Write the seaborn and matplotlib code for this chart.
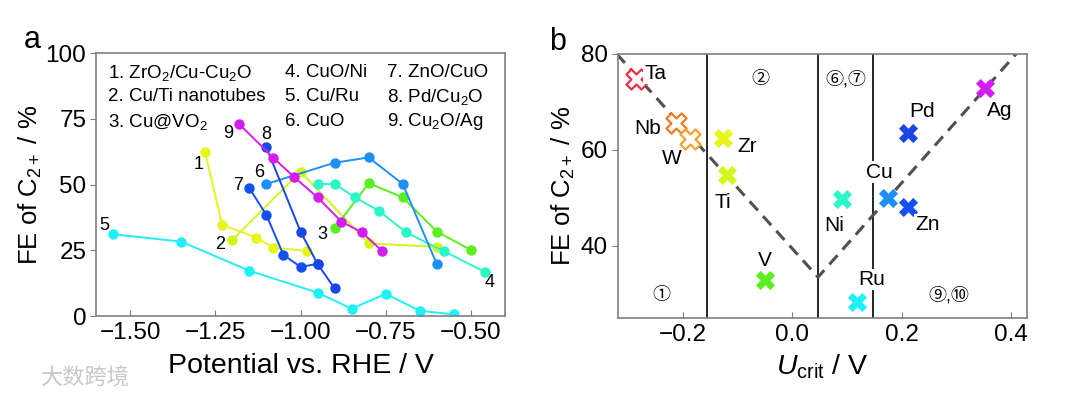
import numpy as np
import pandas as pd
import matplotlib
matplotlib.use('Agg')
import matplotlib.pyplot as plt
import seaborn as sns

sns.set_style('ticks')
plt.rcParams['font.family'] = ['Liberation Sans', 'Noto Sans CJK SC', 'DejaVu Sans']
plt.rcParams['mathtext.fontset'] = 'custom'
plt.rcParams['mathtext.rm'] = 'Liberation Sans'
plt.rcParams['mathtext.it'] = 'Liberation Sans:italic'
plt.rcParams['mathtext.bf'] = 'Liberation Sans:bold'
plt.rcParams['text.color'] = 'black'
plt.rcParams['axes.labelcolor'] = 'black'

# ---- panel a data: FE of C2+ vs potential for 9 catalysts
s1_x = [-1.28, -1.23, -1.13, -1.08, -0.98]
s1_y = [62.5, 34.7, 29.8, 26.0, 24.7]
s2_x = [-1.20, -1.00, -0.80, -0.60]
s2_y = [28.9, 54.9, 27.6, 26.3]
s3_x = [-0.90, -0.80, -0.70, -0.60, -0.50]
s3_y = [33.3, 50.5, 45.1, 32.1, 25.1]
s4_x = [-0.95, -0.90, -0.84, -0.77, -0.69, -0.58, -0.46]
s4_y = [50.2, 50.2, 45.1, 40.0, 31.8, 24.7, 16.8]
s5_x = [-1.55, -1.35, -1.15, -0.95, -0.85, -0.75, -0.65, -0.55]
s5_y = [31.1, 28.3, 17.2, 8.9, 2.8, 8.4, 2.0, 0.6]
s6_x = [-1.10, -0.90, -0.80, -0.70, -0.60]
s6_y = [50.2, 58.3, 60.3, 50.2, 19.7]
s7_x = [-1.15, -1.10, -1.05, -1.00, -0.95]
s7_y = [48.6, 38.4, 23.2, 18.7, 19.8]
s8_x = [-1.10, -1.00, -0.95, -0.90]
s8_y = [64.1, 32.1, 19.8, 10.5]
s9_x = [-1.18, -1.08, -1.02, -0.95, -0.88, -0.82, -0.76]
s9_y = [73.0, 60.2, 53.0, 45.1, 35.9, 31.8, 24.7]

series_x = [s1_x, s2_x, s3_x, s4_x, s5_x, s6_x, s7_x, s8_x, s9_x]
series_y = [s1_y, s2_y, s3_y, s4_y, s5_y, s6_y, s7_y, s8_y, s9_y]
series_colors = ['#e6f51a', '#d4f51a', '#5af01e', '#2ef5c8', '#1ef0f5',
                 '#1e90f5', '#1450f0', '#1a46e6', '#d21ef0']
legend_names = ['1. ZrO$_2$/Cu-Cu$_2$O', '2. Cu/Ti nanotubes', '3. Cu@VO$_2$',
                '4. CuO/Ni', '5. Cu/Ru', '6. CuO',
                '7. ZnO/CuO', '8. Pd/Cu$_2$O', '9. Cu$_2$O/Ag']

# ---- panel b data: volcano plot
elements = ['Ta', 'Nb', 'W', 'Zr', 'Ti', 'V', 'Ni', 'Ru', 'Cu', 'Zn', 'Pd', 'Ag']
u_crit = [-0.287, -0.214, -0.188, -0.127, -0.120, -0.050, 0.091, 0.118, 0.175, 0.212, 0.212, 0.352]
fe_b = [74.7, 65.7, 62.2, 62.4, 54.8, 32.9, 49.7, 28.4, 49.9, 48.2, 63.6, 72.8]
elem_colors = ['#f0304a', '#f07a20', '#f5a030', '#e6f51a', '#d4f51a', '#5af01e',
               '#2ef5c8', '#1ef0f5', '#1e90f5', '#1450f0', '#1a46e6', '#d21ef0']
hollow = ['Ta', 'Nb', 'W']
volcano_x = [-0.322, 0.047, 0.410]
volcano_y = [80, 33.5, 80]
borders = [-0.156, 0.047, 0.148]
regions = ['①', '②', '⑥,⑦', '⑨,⑩']
region_x = [-0.240, -0.058, 0.097, 0.287]
region_y = [29.6, 74.7, 74.7, 29.6]

fig = plt.figure(figsize=(10.8, 3.99), dpi=100)
ax1 = fig.add_axes([0.0889, 0.208, 0.3787, 0.659])
ax2 = fig.add_axes([0.572, 0.203, 0.379, 0.662])

# panel a
rows = []
for i in range(9):
    for xv, yv in zip(series_x[i], series_y[i]):
        rows.append((str(i + 1), xv, yv))
df_a = pd.DataFrame(rows, columns=['series', 'potential', 'fe'])
sns.lineplot(data=df_a, x='potential', y='fe', hue='series',
             palette=dict(zip([str(i + 1) for i in range(9)], series_colors)),
             marker='o', markersize=7.5, markeredgewidth=0, linewidth=1.4,
             sort=False, estimator=None, legend=False, ax=ax1)

# number labels next to each curve (anchor point, offset in points)
num_anchor = [0, 0, 0, -1, 0, 0, 0, 0, 0]
num_offset = [(-5, -9.5), (-9, -3), (-9, -4), (4, -8), (-6, 6), (-5, 8), (-8, 2), (0, 9.5), (-8, -7)]
for i in range(9):
    k = num_anchor[i]
    ax1.annotate(str(i + 1), (series_x[i][k], series_y[i][k]), xytext=num_offset[i],
                 textcoords='offset points', ha='center', va='center', fontsize=13)

col_x = [0.029, 0.462, 0.711]
row_y = [0.925, 0.833, 0.738]
for i, name in enumerate(legend_names):
    ax1.text(col_x[i // 3], row_y[i % 3], name, transform=ax1.transAxes,
             ha='left', va='center', fontsize=13.5)

ax1.set_xlim(-1.6, -0.4)
ax1.set_ylim(0, 100)
ax1.set_xticks([-1.5, -1.25, -1.0, -0.75, -0.5])
ax1.set_xticklabels(['\u22121.50', '\u22121.25', '\u22121.00', '\u22120.75', '\u22120.50'])
ax1.set_yticks([0, 25, 50, 75, 100])
ax1.set_xlabel('Potential vs. RHE / V', fontsize=20.5, labelpad=7)
ax1.set_ylabel('FE of C$_{2+}$ / %', fontsize=18.5, labelpad=1)

# panel b
for b in borders:
    ax2.axvline(b, color='black', linewidth=1.2, zorder=1)
sns.lineplot(x=volcano_x, y=volcano_y, color='#505050', linewidth=2.2,
             linestyle=(0, (4, 2.5)), sort=False, estimator=None, ax=ax2, zorder=2)
for e, u, f, c in zip(elements, u_crit, fe_b, elem_colors):
    if e in hollow:
        ax2.scatter([u], [f], marker='X', s=210, facecolor='white', edgecolor=c,
                    linewidth=1.6, zorder=4)
    else:
        sns.scatterplot(x=[u], y=[f], marker='X', s=190, color=c, linewidth=0,
                        ax=ax2, zorder=4)

label_offset = {'Ta': (14, 4), 'Nb': (-20, -4), 'W': (-13, -14), 'Zr': (17, -6),
                'Ti': (-3, -20), 'V': (0, 14), 'Ni': (-6, -19), 'Ru': (11, 16),
                'Cu': (-6, 19), 'Zn': (14, -13), 'Pd': (10, 15), 'Ag': (11, -16)}
for e, u, f in zip(elements, u_crit, fe_b):
    ax2.annotate(e, (u, f), xytext=label_offset[e], textcoords='offset points',
                 ha='center', va='center', fontsize=15, zorder=5,
                 bbox=dict(boxstyle='square,pad=0.05', fc='white', ec='none'))
for r, rx, ry in zip(regions, region_x, region_y):
    ax2.text(rx, ry, r, ha='center', va='center', fontsize=13, zorder=5,
             family=['Liberation Sans', 'Noto Sans CJK SC', 'DejaVu Sans'],
             bbox=dict(boxstyle='square,pad=0.05', fc='white', ec='none'))

ax2.set_xlim(-0.32, 0.43)
ax2.set_ylim(25, 80)
ax2.set_xticks([-0.2, 0.0, 0.2, 0.4])
ax2.set_xticklabels(['\u22120.2', '0.0', '0.2', '0.4'])
ax2.set_yticks([40, 60, 80])
ax2.set_xlabel('$U_{\\mathrm{crit}}$ / V', fontsize=20.5, labelpad=5)
ax2.set_ylabel('FE of C$_{2+}$ / %', fontsize=18.5, labelpad=3)

for ax in (ax1, ax2):
    for sp in ax.spines.values():
        sp.set_color('#7f7f7f')
        sp.set_linewidth(1.2)
    ax.tick_params(axis='x', direction='in', length=4, color='#7f7f7f',
                   labelcolor='black', labelsize=17.5, pad=4)
    ax.tick_params(axis='y', direction='out', length=4, color='#7f7f7f',
                   labelcolor='black', labelsize=17.5, pad=3)

fig.text(0.022, 0.90, 'a', fontsize=22, ha='left', va='center')
fig.text(0.508, 0.895, 'b', fontsize=22, ha='left', va='center')
fig.text(0.037, 0.052, '大数跨境', fontsize=16, color='#c8c8c8', ha='left', va='center',
         family=['Noto Sans CJK SC'])

fig.savefig('out.png', dpi=100)
